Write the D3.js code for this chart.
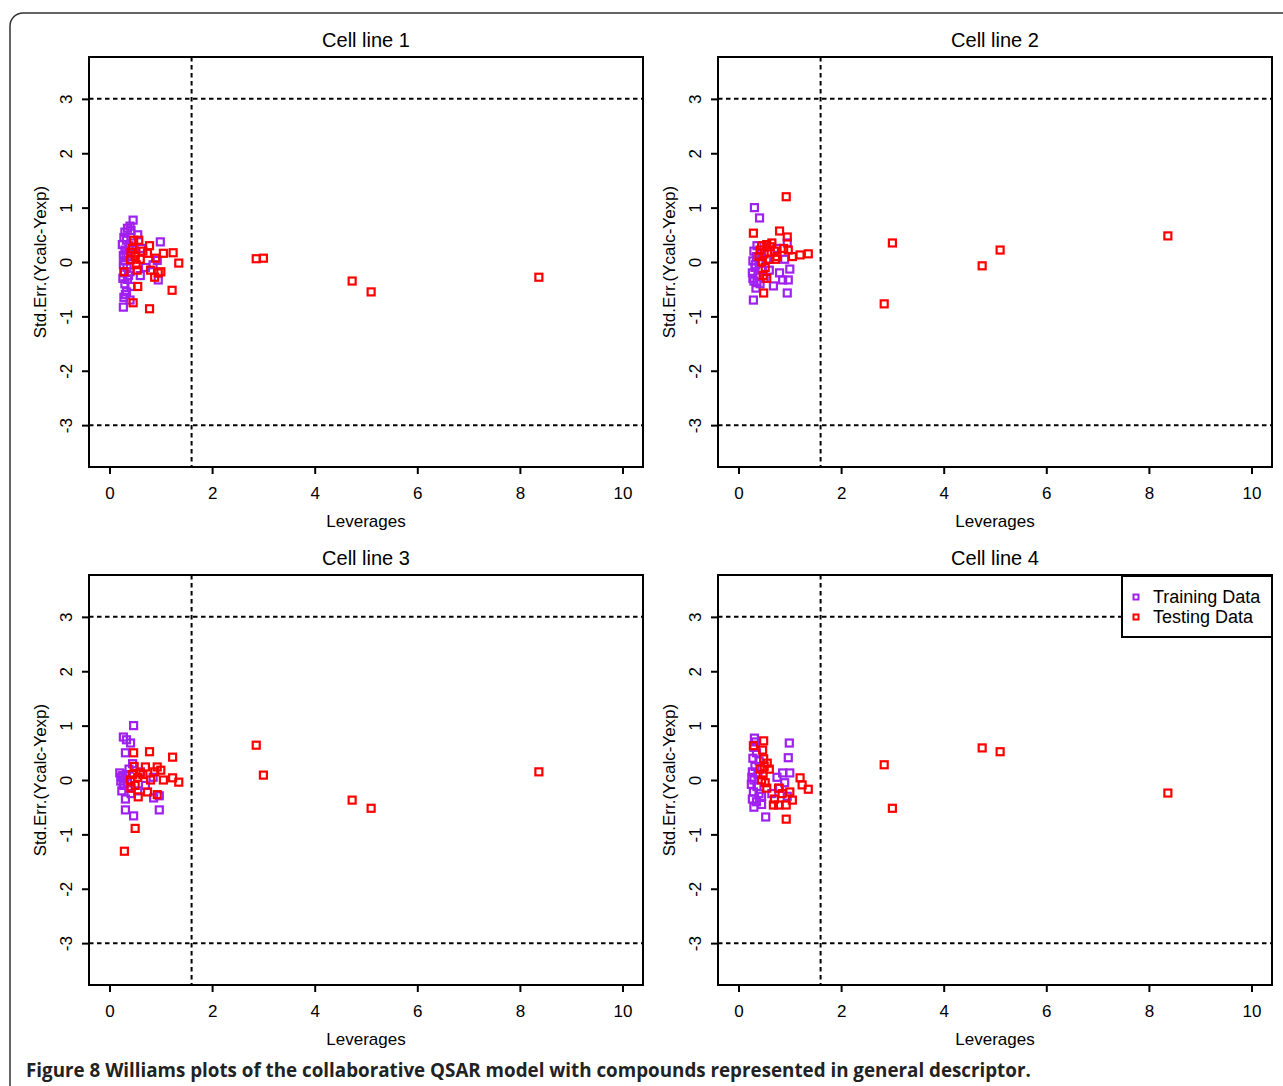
<!DOCTYPE html>
<html>
<head>
<meta charset="utf-8">
<script src="https://cdn.jsdelivr.net/npm/d3@7"></script>
<style>
  body { margin: 0; background: #fff; }
  svg { display: block; }
</style>
</head>
<body>
<script>
// panel titles and axis ticks
var titles = ['Cell line 1', 'Cell line 2', 'Cell line 3', 'Cell line 4'];
var xTicks = [0, 2, 4, 6, 8, 10];
var yTicks = [-3, -2, -1, 0, 1, 2, 3];
var hStar = 1.6;      // warning leverage
var resLimit = 3;     // +/- 3 std. residual
var legendLabels = ['Training Data', 'Testing Data'];

// [leverage, std. error]
var train1 = [[0.46,0.77],[0.40,0.66],[0.35,0.62],[0.30,0.55],[0.42,0.58],[0.28,0.45],[0.33,0.40],[0.25,0.32],
  [0.38,0.30],[0.30,0.22],[0.27,0.12],[0.36,0.10],[0.30,0.02],[0.42,0.05],[0.27,-0.05],[0.34,-0.10],
  [0.29,-0.20],[0.40,-0.18],[0.26,-0.30],[0.35,-0.32],[0.30,-0.40],[0.42,-0.45],[0.33,-0.55],[0.28,-0.65],
  [0.40,-0.70],[0.27,-0.83],[0.99,0.37],[0.93,0.03],[0.95,-0.33],[0.62,0.25],[0.70,-0.10],[0.85,-0.05],
  [0.55,0.50],[0.60,-0.25],[0.50,0.15],[0.32,0.15],[0.37,-0.25],[0.44,0.35],[0.31,-0.60]];
var test1 = [[0.47,0.40],[0.57,0.40],[0.78,0.30],[0.74,0.16],[1.05,0.16],[1.24,0.17],[1.35,-0.02],[0.90,0.07],
  [1.00,-0.18],[0.41,0.04],[0.28,-0.18],[0.54,-0.15],[0.80,-0.15],[0.95,-0.20],[0.55,-0.45],[1.22,-0.52],
  [0.46,-0.75],[0.78,-0.86],[0.45,0.25],[0.50,0.10],[0.42,0.18],[0.52,-0.05],[0.60,0.05],[0.65,0.20],
  [0.88,-0.28],[2.86,0.06],[3.00,0.07],[4.73,-0.35],[5.10,-0.55],[8.37,-0.28]];

var train2 = [[0.31,1.00],[0.41,0.81],[0.30,0.20],[0.35,0.10],[0.28,0.02],[0.40,-0.02],[0.32,-0.10],[0.27,-0.20],
  [0.38,-0.25],[0.30,-0.35],[0.42,-0.40],[0.34,-0.48],[0.29,-0.70],[0.45,0.15],[0.36,0.30],[0.50,-0.30],
  [0.95,-0.57],[0.68,-0.44],[0.97,-0.33],[1.00,-0.13],[0.86,-0.33],[0.80,-0.20],[0.90,0.05],[0.60,-0.15],
  [0.33,-0.05],[0.45,-0.15],[0.55,0.05],[0.95,0.35],[0.75,0.25],[0.28,-0.30],[0.36,-0.38]];
var test2 = [[0.93,1.20],[0.29,0.53],[0.80,0.57],[0.95,0.46],[1.20,0.13],[1.36,0.15],[1.05,0.10],[0.49,-0.57],
  [0.45,0.30],[0.55,0.32],[0.65,0.35],[0.70,0.20],[0.50,0.15],[0.42,0.22],[0.60,0.05],[0.75,0.10],
  [0.45,0.00],[0.52,-0.10],[0.48,-0.25],[0.55,-0.30],[0.62,0.28],[0.88,0.25],[0.97,0.22],[0.72,0.05],
  [0.40,0.10],[2.84,-0.77],[3.00,0.35],[4.75,-0.07],[5.10,0.22],[8.37,0.48]];

var train3 = [[0.47,1.00],[0.27,0.79],[0.33,0.74],[0.41,0.68],[0.31,0.50],[0.20,0.13],[0.25,0.08],[0.30,0.02],
  [0.22,-0.02],[0.35,-0.05],[0.28,-0.10],[0.40,-0.15],[0.24,-0.20],[0.33,0.10],[0.38,0.20],[0.31,-0.35],
  [0.31,-0.55],[0.47,-0.66],[0.97,-0.55],[0.97,-0.29],[0.86,-0.33],[0.45,0.30],[0.42,-0.25],[0.60,0.15],
  [0.70,-0.10],[0.85,0.05],[0.55,-0.20],[0.23,0.05],[0.27,-0.08]];
var test3 = [[0.47,0.50],[0.78,0.52],[1.23,0.42],[0.70,0.24],[0.93,0.24],[1.00,0.18],[0.60,0.13],[1.23,0.04],
  [1.35,-0.04],[1.05,0.00],[0.80,0.00],[0.41,0.00],[0.56,-0.31],[0.93,-0.27],[0.74,-0.22],[0.50,-0.89],
  [0.29,-1.31],[0.45,0.10],[0.50,-0.10],[0.42,-0.15],[0.55,0.05],[0.65,0.10],[0.48,0.25],[0.88,0.15],
  [2.86,0.64],[3.00,0.09],[4.73,-0.37],[5.10,-0.52],[8.37,0.15]];

var train4 = [[0.31,0.77],[0.99,0.68],[0.97,0.41],[0.86,0.13],[1.00,0.13],[0.30,0.60],[0.35,0.50],[0.28,0.40],
  [0.40,0.35],[0.32,0.25],[0.27,0.15],[0.38,0.10],[0.30,0.00],[0.25,-0.08],[0.36,-0.12],[0.29,-0.22],
  [0.40,-0.25],[0.27,-0.35],[0.35,-0.40],[0.30,-0.50],[0.45,-0.45],[0.53,-0.68],[0.45,-0.30],[0.75,0.05],
  [0.90,-0.05],[0.80,-0.15],[0.65,-0.25],[0.95,-0.30],[0.33,0.70],[0.26,0.05]];
var test4 = [[0.29,0.63],[0.49,0.72],[0.47,0.55],[0.49,0.39],[0.56,0.31],[0.60,0.20],[1.20,0.04],[1.24,-0.09],
  [1.36,-0.17],[0.78,-0.15],[1.00,-0.22],[1.05,-0.37],[0.68,-0.46],[0.93,-0.46],[0.78,-0.46],[0.93,-0.72],
  [0.42,0.20],[0.48,0.10],[0.45,0.00],[0.52,-0.05],[0.50,0.25],[0.55,-0.15],[0.85,-0.25],[0.70,-0.35],
  [2.84,0.28],[3.00,-0.52],[4.75,0.59],[5.10,0.52],[8.37,-0.24]];

var trainSets = [train1, train2, train3, train4];
var testSets = [test1, test2, test3, test4];

var purple = '#a020f0', red = '#ff0000';
var font = 'Liberation Sans, Arial, sans-serif';

var W = 1283, H = 1086;
var boxW = 554, boxH = 410;

var svg = d3.select('body').append('svg')
  .attr('width', W)
  .attr('height', H);

// outer frame
svg.append('rect')
  .attr('x', 10).attr('y', 13)
  .attr('width', 1300).attr('height', 1100)
  .attr('rx', 13)
  .attr('fill', 'none')
  .attr('stroke', '#333')
  .attr('stroke-width', 1.5);

titles.forEach(function(title, i) {
  var left = 89 + (i % 2) * 629;
  var top = 57 + Math.floor(i / 2) * 518;

  var x = d3.scaleLinear().domain([-0.4, 10.4]).range([left, left + boxW]);
  var y = d3.scaleLinear().domain([-3.77, 3.77]).range([top + boxH, top]);

  var g = svg.append('g');

  // axes
  var xAxis = d3.axisBottom(x).tickValues(xTicks).tickSize(7).tickPadding(13);
  var gx = g.append('g')
    .attr('transform', 'translate(0,' + (top + boxH) + ')')
    .call(xAxis);
  gx.select('.domain').remove();
  gx.selectAll('line').attr('stroke', '#000').attr('stroke-width', 2);
  gx.selectAll('text')
    .attr('font-family', font)
    .attr('font-size', 17)
    .attr('fill', '#000');

  var yAxis = d3.axisLeft(y).tickValues(yTicks).tickSize(7).tickFormat(d3.format('d'));
  var gy = g.append('g')
    .attr('transform', 'translate(' + left + ',0)')
    .call(yAxis);
  gy.select('.domain').remove();
  gy.selectAll('line').attr('stroke', '#000').attr('stroke-width', 2);
  gy.selectAll('text')
    .attr('x', null).attr('dy', null)
    .attr('text-anchor', 'middle')
    .attr('transform', 'translate(-15,0) rotate(-90)')
    .attr('dy', '-0.1em')
    .attr('font-family', font)
    .attr('font-size', 17)
    .attr('fill', '#000')
    .text(function(d) { return d < 0 ? '-' + Math.abs(d) : d; });

  // reference lines
  [resLimit, -resLimit].forEach(function(v) {
    g.append('line')
      .attr('x1', left).attr('x2', left + boxW)
      .attr('y1', y(v)).attr('y2', y(v))
      .attr('stroke', '#000')
      .attr('stroke-width', 2)
      .attr('stroke-dasharray', '4.5,3.5');
  });
  g.append('line')
    .attr('x1', x(hStar)).attr('x2', x(hStar))
    .attr('y1', top).attr('y2', top + boxH)
    .attr('stroke', '#000')
    .attr('stroke-width', 2)
    .attr('stroke-dasharray', '4.5,3.5');

  // points
  var sq = 7;
  g.selectAll('rect.train')
    .data(trainSets[i])
    .enter()
    .append('rect')
    .attr('class', 'train')
    .attr('x', function(d) { return x(d[0]) - sq / 2; })
    .attr('y', function(d) { return y(d[1]) - sq / 2; })
    .attr('width', sq).attr('height', sq)
    .attr('fill', 'none')
    .attr('stroke', purple)
    .attr('stroke-width', 2.2);

  g.selectAll('rect.test')
    .data(testSets[i])
    .enter()
    .append('rect')
    .attr('class', 'test')
    .attr('x', function(d) { return x(d[0]) - sq / 2; })
    .attr('y', function(d) { return y(d[1]) - sq / 2; })
    .attr('width', sq).attr('height', sq)
    .attr('fill', 'none')
    .attr('stroke', red)
    .attr('stroke-width', 2.2);

  // plot box
  g.append('rect')
    .attr('x', left).attr('y', top)
    .attr('width', boxW).attr('height', boxH)
    .attr('fill', 'none')
    .attr('stroke', '#000')
    .attr('stroke-width', 2);

  // labels
  g.append('text')
    .attr('x', left + boxW / 2)
    .attr('y', top - 10)
    .attr('text-anchor', 'middle')
    .attr('font-family', font)
    .attr('font-size', 20)
    .text(title);

  g.append('text')
    .attr('x', left + boxW / 2)
    .attr('y', top + boxH + 60)
    .attr('text-anchor', 'middle')
    .attr('font-family', font)
    .attr('font-size', 17)
    .text('Leverages');

  g.append('text')
    .attr('transform', 'translate(' + (left - 43) + ',' + (top + boxH / 2) + ') rotate(-90)')
    .attr('text-anchor', 'middle')
    .attr('font-family', font)
    .attr('font-size', 17)
    .text('Std.Err.(Ycalc-Yexp)');

  // legend in last panel
  if (i === 3) {
    var lx = 1122, ly = top + 1, lw = left + boxW - lx, lh = 61;
    g.append('rect')
      .attr('x', lx).attr('y', ly)
      .attr('width', lw).attr('height', lh)
      .attr('fill', '#fff')
      .attr('stroke', '#000')
      .attr('stroke-width', 2);
    legendLabels.forEach(function(lab, k) {
      var cy = ly + 21 + k * 20;
      g.append('rect')
        .attr('x', lx + 14 - sq / 2 + 1).attr('y', cy - sq / 2 + 1)
        .attr('width', sq - 2).attr('height', sq - 2)
        .attr('fill', 'none')
        .attr('stroke', k === 0 ? purple : red)
        .attr('stroke-width', 2);
      g.append('text')
        .attr('x', lx + 31)
        .attr('y', cy + 6)
        .attr('font-family', font)
        .attr('font-size', 18)
        .text(lab);
    });
  }
});

// caption
var cap = svg.append('text')
  .attr('x', 26)
  .attr('y', 1077)
  .attr('font-family', 'Open Sans, sans-serif')
  .attr('font-weight', 'bold')
  .attr('font-size', 18.8)
  .attr('fill', '#222');
cap.append('tspan').text('Figure 8 ');
cap.append('tspan').text('Williams plots of the collaborative QSAR model with compounds represented in general descriptor.');
</script>
</body>
</html>
